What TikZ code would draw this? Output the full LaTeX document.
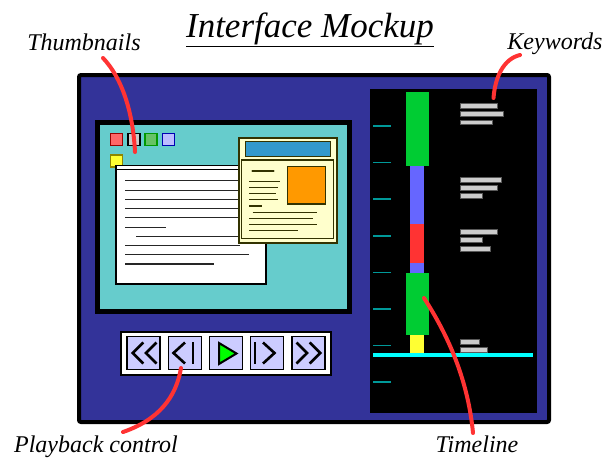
\documentclass[tikz,border=0pt]{standalone}
\usepackage{fontspec}
\setmainfont{Liberation Serif}
\usetikzlibrary{positioning}
\definecolor{frameblue}{RGB}{51,51,153}
\definecolor{screenteal}{RGB}{102,204,204}
\definecolor{tickteal}{RGB}{0,153,153}
\definecolor{linecyan}{RGB}{0,255,255}
\definecolor{tlgreen}{RGB}{0,204,51}
\definecolor{tlblue}{RGB}{102,102,255}
\definecolor{tlred}{RGB}{255,51,51}
\definecolor{tlyellow}{RGB}{255,255,51}
\definecolor{kwgray}{RGB}{204,204,204}
\definecolor{leadred}{RGB}{255,51,51}
\definecolor{btnlav}{RGB}{204,204,255}
\definecolor{winyellow}{RGB}{255,255,204}
\definecolor{winolive}{RGB}{51,51,0}
\definecolor{winblue}{RGB}{51,153,204}
\definecolor{winorange}{RGB}{255,153,0}
\tikzset{
  leader/.style={draw=leadred,line width=4pt,line cap=round},
  callout/.style={font=\fontsize{24}{28}\selectfont\itshape,inner sep=0pt,anchor=base},
  btn/.style={draw=black,fill=btnlav,line width=1.5pt,minimum width=33pt,minimum height=33pt,inner sep=0pt},
  sym/.style={line width=2.6pt,line join=miter},
  sq/.style={line width=1.2pt,minimum size=12pt,inner sep=0pt},
  kw/.style={fill=kwgray,draw=gray!70!black,line width=0.5pt},
  txt/.style={line width=1.3pt,black!85},
  wtxt/.style={line width=1.2pt,winolive}
}
\begin{document}
\begin{tikzpicture}[x=1pt,y=-1pt]
        \useasboundingbox (0,0) rectangle (605,461);
        % Title and callouts
        \node[callout,font=\fontsize{35}{40}\selectfont\itshape](title)at(310,37){\underline{Interface Mockup}};
        \node[callout](thumbLbl)at(84,50){Thumbnails};
        \node[callout](kwLbl)at(555,49){Keywords};
        \node[callout](playLbl)at(96,452){Playback control};
        \node[callout](tlLbl)at(477,452){Timeline};
        % Outer frame
        \draw[black,line width=4pt,fill=frameblue,rounded corners=2pt](79,75)rectangle(549,422);
        % Screen with thumbnails
        \draw[black,line width=5pt,fill=screenteal](97.5,122.5)rectangle(349.5,311.5);
        \node[sq,fill=red!60,draw=red!60!black](redSq)at(116.5,139.3){};
        \node[sq,fill=kwgray,draw=black](graySq)at(134,139.3){};
        \node[sq,fill=green!60!black!60!white,draw=green!60!black](greenSq)at(151,139.3){};
        \node[sq,fill=btnlav!70!blue!60,draw=blue!70!black](blueSq)at(168.3,139.3){};
        \node[sq,fill=tlyellow,draw=olive](yellowSq)at(116.3,161){};
        % Text document
        \draw[black,line width=1.5pt,fill=white](116,165.7)rectangle(266,284);
        \draw[black,line width=1pt](116,169.5)--(266,169.5);
        \foreach \xa/\y/\xb in {125.3/180.7/250,125.3/190.7/250,125.3/199.3/250,125.3/208.7/250,125.3/217.7/250,
                125.3/227.3/166,136/236.3/250,125.3/245.3/240,125.3/254.3/249,125.3/264/214}
            \draw[txt](\xa,\y)--(\xb,\y);
        % Web page window
        \draw[winolive,line width=2pt,fill=winyellow](239.3,138.3)rectangle(336.7,243.3);
        \draw[winolive,line width=1pt,fill=winblue](245,141.7)rectangle(330.7,156.7);
        \draw[winolive,line width=1.5pt](241.7,160)rectangle(333.3,238.3);
        \draw[winolive,line width=1.2pt,fill=winorange](287.3,166.7)rectangle(325.7,204);
        \draw[wtxt,line width=2.2pt,line cap=round](252.5,171)--(273.5,171);
        \foreach \xa/\y/\xb in {249.3/181.7/280,249.3/187.7/278.3,249.3/193.7/276,249.3/199.7/278.3,249.3/206/261.7,
                252.7/212.3/316.7,249.3/218.3/313.3,249.3/224.3/316.7,249.3/230.3/298.3}
            \draw[wtxt](\xa,\y)--(\xb,\y);
        % Playback controls
        \draw[black,line width=1.5pt,fill=white](121,332)rectangle(331,375);
        \foreach \x/\n in {143.7/rew,185/prev,226/play,267/next,308.3/ffwd}
            \node[btn](\n)at(\x,353){};
        \draw[sym](143.3,342.5)--(132.7,353)--(143.3,363.5);
        \draw[sym](156.5,342.5)--(145.9,353)--(156.5,363.5);
        \draw[sym](185,342.5)--(173.5,353)--(185,363.5);
        \draw[sym](193,342)--(193,364);
        \draw[black,line width=2pt,fill=green,line join=miter](219,343)--(219,364)--(236.5,353.5)--cycle;
        \draw[sym](255,342)--(255,364);
        \draw[sym](263,342.5)--(274.5,353)--(263,363.5);
        \draw[sym](296.5,342.5)--(307.1,353)--(296.5,363.5);
        \draw[sym](309.7,342.5)--(320.3,353)--(309.7,363.5);
        % Timeline panel
        \fill[black](370,89)rectangle(537,413);
        \foreach \k in {0,...,7}
            \draw[tickteal,line width=1.5pt](373,{126+36.6*\k})--(391,{126+36.6*\k});
        \fill[tlgreen](406,92)rectangle(429,166);
        \fill[tlblue](410,166)rectangle(424,224);
        \fill[tlred](410,224)rectangle(424,263);
        \fill[tlblue](410,263)rectangle(424,273);
        \fill[tlgreen](406,273)rectangle(429,335);
        \fill[tlyellow](410,335)rectangle(424,353);
        \draw[linecyan,line width=4pt](373,355)--(533,355);
        % Keyword bars
        \foreach \y/\xb in {105.7/497.7,114/503,122.3/492,180/501,188/497,196/482,
                232/497,240/482,248.7/490,342/479,350/487}
            \draw[kw](460,\y-2.3)rectangle(\xb,\y+2.3);
        % Leaders
        \coordinate(thumbFoot)at(103,58);
        \coordinate(thumbTip)at(135,152);
        \coordinate(kwFoot)at(520,55);
        \coordinate(kwTip)at(493.5,98);
        \coordinate(playFoot)at(123,432);
        \coordinate(playTip)at(181,368);
        \coordinate(tlFoot)at(473,433);
        \coordinate(tlTip)at(424,298);
        \draw[leader](thumbFoot)..controls(122,78)and(133,112)..(thumbTip);
        \draw[leader](kwFoot)..controls(503,59)and(495,78)..(kwTip);
        \draw[leader](playTip)..controls(176,398)and(158,420)..(playFoot);
        \draw[leader](tlTip)..controls(448,335)and(468,380)..(tlFoot);
    \end{tikzpicture}
\end{document}
